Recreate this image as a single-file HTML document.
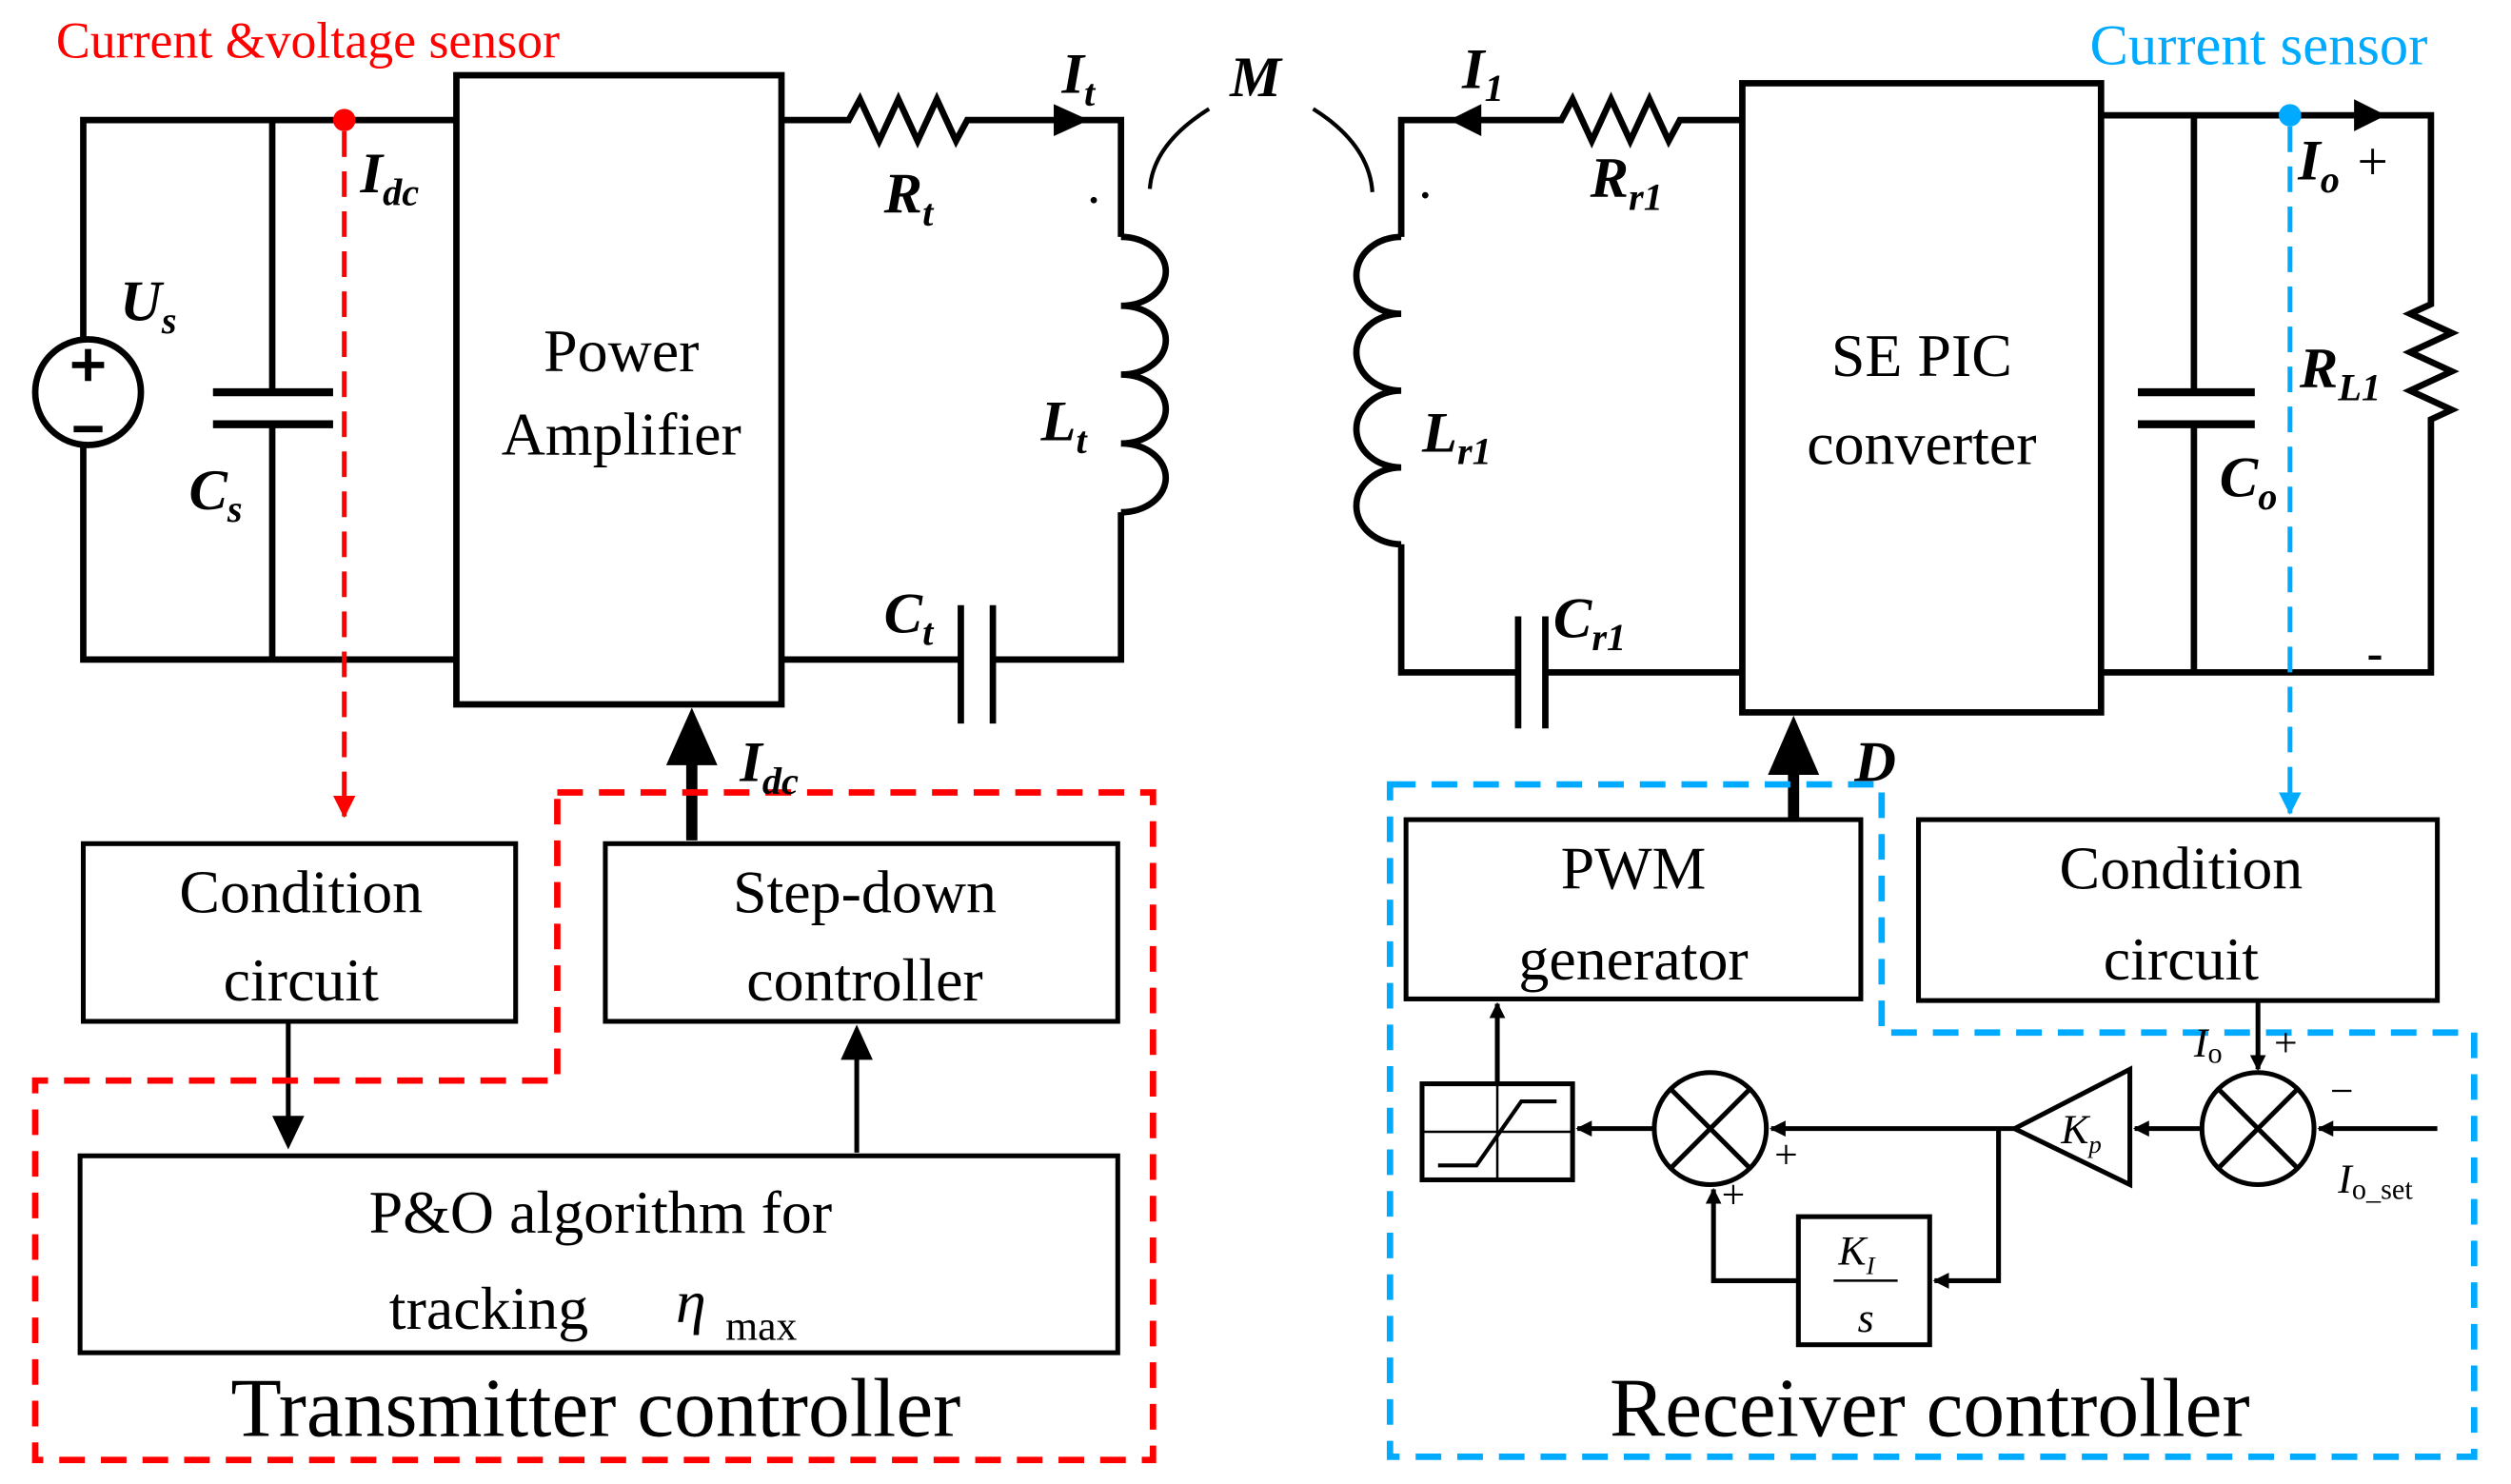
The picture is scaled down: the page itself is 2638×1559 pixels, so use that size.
<!DOCTYPE html>
<html><head><meta charset="utf-8"><style>html,body{margin:0;padding:0;background:#fff}svg{display:block}</style></head>
<body>
<svg width="2638" height="1559" viewBox="0 0 1568 927" preserveAspectRatio="none" xmlns="http://www.w3.org/2000/svg" font-family="Liberation Serif, serif">
<defs>
<marker id="ab" markerWidth="10" markerHeight="10" refX="9" refY="5" orient="auto" markerUnits="userSpaceOnUse"><path d="M0,0 L10,5 L0,10 z" fill="#000"/></marker>
<marker id="ar" markerWidth="14" markerHeight="14" refX="13" refY="7" orient="auto" markerUnits="userSpaceOnUse"><path d="M0,0 L14,7 L0,14 z" fill="#f00"/></marker>
<marker id="abl" markerWidth="14" markerHeight="14" refX="13" refY="7" orient="auto" markerUnits="userSpaceOnUse"><path d="M0,0 L14,7 L0,14 z" fill="#0af"/></marker>
</defs>
<g stroke="#000" stroke-width="4" fill="none">
<polyline points="285,75 52,75 52,412 285,412"/>
<line x1="170" y1="75" x2="170" y2="245"/><line x1="170" y1="265" x2="170" y2="412"/>
<line x1="133" y1="245" x2="208" y2="245" stroke-width="5"/><line x1="133" y1="265" x2="208" y2="265" stroke-width="5"/>
<circle cx="55" cy="245" r="33" fill="#fff"/>
<rect x="285" y="47" width="203" height="393"/>
<polyline points="488,75 530,75 537,62 549,88 561,62 573,88 585,62 597,88 604,75 700,75 700,148"/>
<path d="M700,148 a28,21.5 0 0 1 0,43 a28,21.5 0 0 1 0,43 a28,21.5 0 0 1 0,43 a28,21.5 0 0 1 0,43"/>
<polyline points="700,320 700,412 620,412"/>
<line x1="488" y1="412" x2="600" y2="412"/>
<line x1="600" y1="378" x2="600" y2="452"/><line x1="620" y1="378" x2="620" y2="452"/>
<path d="M755,68 Q720,90 718,118" stroke-width="2.5"/>
<path d="M820,68 Q855,90 857,120" stroke-width="2.5"/>
<polyline points="875,148 875,75 975,75 982,62 994,88 1006,62 1018,88 1030,62 1042,88 1049,75 1088,75"/>
<path d="M875,148 a28,24 0 0 0 0,48 a28,24 0 0 0 0,48 a28,24 0 0 0 0,48 a28,24 0 0 0 0,48"/>
<polyline points="875,340 875,420 948,420"/>
<line x1="965" y1="420" x2="1088" y2="420"/>
<line x1="948" y1="385" x2="948" y2="455"/><line x1="965" y1="385" x2="965" y2="455"/>
<rect x="1088" y="52" width="224" height="393"/>
<polyline points="1312,72 1518,72 1518,190 1505,196 1531,208 1505,220 1531,232 1505,244 1531,256 1518,262 1518,420 1312,420"/>
<line x1="1370" y1="72" x2="1370" y2="245"/><line x1="1370" y1="265" x2="1370" y2="420"/>
<line x1="1335" y1="245" x2="1408" y2="245" stroke-width="5"/><line x1="1335" y1="265" x2="1408" y2="265" stroke-width="5"/>
<rect x="52" y="527" width="270" height="111" stroke-width="3"/>
<rect x="378" y="527" width="320" height="111" stroke-width="3"/>
<rect x="50" y="722" width="648" height="123" stroke-width="3"/>
<rect x="878" y="512" width="284" height="112" stroke-width="3"/>
<rect x="1198" y="512" width="324" height="113" stroke-width="3"/>
<line x1="180" y1="638" x2="180" y2="700" stroke-width="3"/>
<line x1="535" y1="720" x2="535" y2="660" stroke-width="3"/>
<line x1="432" y1="525" x2="432" y2="470" stroke-width="7"/>
<line x1="1120" y1="512" x2="1120" y2="475" stroke-width="7"/>
<rect x="888" y="677" width="94" height="60" stroke-width="3"/>
<polyline points="898,728 922,728 950,688 972,688" stroke-width="2.5"/>
<line x1="935" y1="677" x2="935" y2="737" stroke-width="1.5"/><line x1="888" y1="707" x2="982" y2="707" stroke-width="1.5"/>
<circle cx="1068" cy="705" r="35" stroke-width="3"/>
<line x1="1043" y1="680" x2="1093" y2="730" stroke-width="3"/><line x1="1093" y1="680" x2="1043" y2="730" stroke-width="3"/>
<circle cx="1410" cy="705" r="35" stroke-width="3"/>
<line x1="1385" y1="680" x2="1435" y2="730" stroke-width="3"/><line x1="1435" y1="680" x2="1385" y2="730" stroke-width="3"/>
<polygon points="1330,668 1330,740 1258,705" stroke-width="3"/>
<rect x="1123" y="760" width="82" height="80" stroke-width="3"/>
<line x1="1145" y1="800" x2="1185" y2="800" stroke-width="1.5"/>
<g stroke-width="3">
<line x1="1522" y1="705" x2="1448" y2="705" marker-end="url(#ab)"/>
<line x1="1375" y1="705" x2="1333" y2="705" marker-end="url(#ab)"/>
<line x1="1258" y1="705" x2="1106" y2="705" marker-end="url(#ab)"/>
<polyline points="1248,705 1248,800 1208,800" marker-end="url(#ab)"/>
<polyline points="1123,800 1070,800 1070,743" marker-end="url(#ab)"/>
<line x1="1033" y1="705" x2="985" y2="705" marker-end="url(#ab)"/>
<line x1="935" y1="677" x2="935" y2="627" marker-end="url(#ab)"/>
<line x1="1410" y1="625" x2="1410" y2="668" marker-end="url(#ab)"/>
</g>
</g>
<path d="M170,697 L190,697 L180,718 z" fill="#000"/>
<path d="M525,662 L545,662 L535,640 z" fill="#000"/>
<path d="M416,478 L448,478 L432,442 z" fill="#000"/>
<path d="M1104,484 L1136,484 L1120,447 z" fill="#000"/>
<path d="M658,65 L680,75 L658,85 z" fill="#000"/>
<path d="M925,65 L905,75 L925,85 z" fill="#000"/>
<path d="M1470,62 L1490,72 L1470,82 z" fill="#000"/>
<g stroke="#000" stroke-width="4"><line x1="45" y1="228" x2="65" y2="228"/><line x1="55" y1="218" x2="55" y2="238"/><line x1="46" y1="268" x2="64" y2="268"/></g>
<circle cx="683" cy="125" r="2" fill="#000"/><circle cx="890" cy="122" r="2" fill="#000"/>
<circle cx="215" cy="75" r="7" fill="#f00"/>
<line x1="215" y1="82" x2="215" y2="510" stroke="#f00" stroke-width="3" stroke-dasharray="16,9" marker-end="url(#ar)"/>
<polygon points="348,495 720,495 720,912 22,912 22,675 348,675" fill="none" stroke="#f00" stroke-width="4" stroke-dasharray="16,10"/>
<circle cx="1430" cy="72" r="7" fill="#0af"/>
<line x1="1430" y1="79" x2="1430" y2="508" stroke="#0af" stroke-width="3" stroke-dasharray="16,9" marker-end="url(#abl)"/>
<polygon points="868,490 1175,490 1175,645 1545,645 1545,910 868,910" fill="none" stroke="#0af" stroke-width="4" stroke-dasharray="16,10"/>
<g font-size="38" fill="#000" text-anchor="middle">
<text x="388" y="232">Power</text><text x="388" y="284">Amplifier</text>
<text x="1200" y="235">SE PIC</text><text x="1200" y="290">converter</text>
<text x="188" y="570">Condition</text><text x="188" y="625">circuit</text>
<text x="540" y="570">Step-down</text><text x="540" y="625">controller</text>
<text x="375" y="770">P&amp;O algorithm  for</text>
<text x="1020" y="555">PWM</text><text x="1020" y="612">generator</text>
<text x="1362" y="555">Condition</text><text x="1362" y="612">circuit</text>
<text x="372" y="897" font-size="52">Transmitter controller</text>
<text x="1205" y="897" font-size="52">Receiver controller</text>
</g>
<text x="243" y="830" font-size="38">tracking</text>
<text x="422" y="826" font-size="38" font-style="italic">η</text>
<text x="453" y="837" font-size="26">max</text>
<text x="35" y="36" font-size="32" fill="#f00">Current &amp;voltage sensor</text>
<text x="1305" y="40" font-size="36" fill="#0af">Current  sensor</text>
<g font-style="italic" font-weight="bold" font-size="36" fill="#000">
<text x="225" y="120">I<tspan font-size="24" dy="8">dc</tspan></text>
<text x="75" y="200">U<tspan font-size="24" dy="8">s</tspan></text>
<text x="118" y="318">C<tspan font-size="24" dy="8">s</tspan></text>
<text x="552" y="133">R<tspan font-size="24" dy="8">t</tspan></text>
<text x="663" y="58">I<tspan font-size="24" dy="8">t</tspan></text>
<text x="768" y="60">M</text>
<text x="650" y="275">L<tspan font-size="24" dy="8">t</tspan></text>
<text x="552" y="395">C<tspan font-size="24" dy="8">t</tspan></text>
<text x="462" y="488">I<tspan font-size="24" dy="8">dc</tspan></text>
<text x="913" y="55">I<tspan font-size="24" dy="8">1</tspan></text>
<text x="993" y="123">R<tspan font-size="24" dy="8">r1</tspan></text>
<text x="888" y="282">L<tspan font-size="24" dy="8">r1</tspan></text>
<text x="970" y="398">C<tspan font-size="24" dy="8">r1</tspan></text>
<text x="1158" y="488">D</text>
<text x="1435" y="112">I<tspan font-size="24" dy="8">o</tspan></text>
<text x="1436" y="242">R<tspan font-size="24" dy="8">L1</tspan></text>
<text x="1386" y="310">C<tspan font-size="24" dy="8">o</tspan></text>
</g>
<text x="1472" y="112" font-size="34">+</text>
<text x="1478" y="418" font-size="30" font-weight="bold">-</text>
<g font-size="26" font-style="italic" fill="#000">
<text x="1287" y="714">K<tspan font-size="16" dy="6">p</tspan></text>
<text x="1148" y="790">K<tspan font-size="16" dy="6">I</tspan></text>
<text x="1160" y="832">s</text>
<text x="1370" y="660">I<tspan font-size="18" dy="4" font-style="normal">o</tspan></text>
<text x="1460" y="745">I<tspan font-size="18" dy="4" font-style="normal">o_set</tspan></text>
</g>
<g font-size="26" fill="#000"><text x="1420" y="660">+</text><text x="1455" y="690">−</text><text x="1108" y="730">+</text><text x="1075" y="755">+</text></g>
</svg>
</body></html>
